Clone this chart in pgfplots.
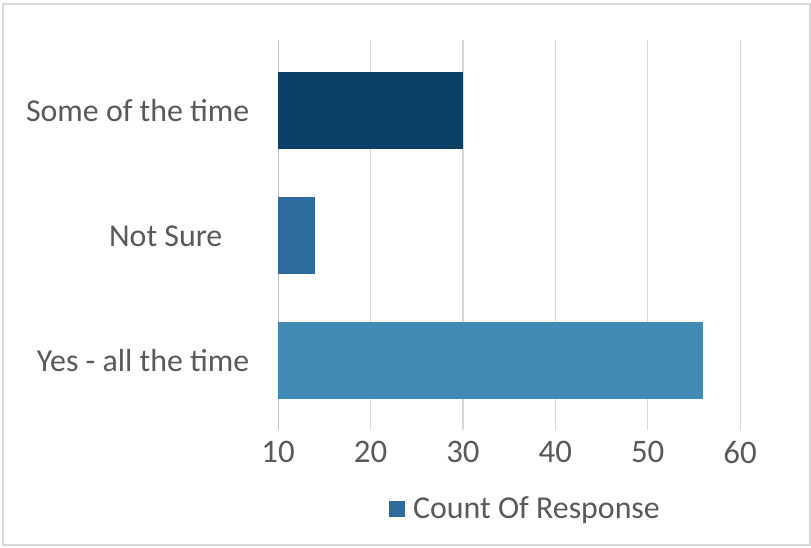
\documentclass[border=0pt]{standalone}
\usepackage{pgfplots}
\pgfplotsset{compat=1.18}
\usepackage{fontspec}
\setmainfont{Carlito}
\definecolor{txt}{HTML}{595959}
\definecolor{gridc}{HTML}{D9D9D9}
\definecolor{barA}{HTML}{0B3F66}
\definecolor{barB}{HTML}{2E6A9C}
\definecolor{barC}{HTML}{418AB3}
\begin{document}
\begin{tikzpicture}[x=1bp,y=1bp]
% outer chart frame
\path[use as bounding box] (0,0) rectangle (811,548);
\draw[gridc, line width=1.2bp] (3,3) rectangle (810,544);
\begin{axis}[
  at={(301,94)}, anchor=south west,
  scale only axis, width=462bp, height=390bp,
  xmin=10, xmax=60, ymin=-0.556, ymax=2.564,
  xtick={10,20,...,60},
  ytick={0,1,2},
  yticklabels={Yes - all the time, Not Sure\hspace*{27bp}, Some of the time},
  axis line style={draw=none},
  tick style={draw=none},
  xmajorgrids, grid style={gridc, line width=1.2bp},
  yticklabel style={font=\fontsize{32}{36}\selectfont, text=txt, xshift=-21bp},
  xticklabel style={font=\fontsize{33}{38}\selectfont, text=txt, yshift=-7bp},
  /pgf/number format/assume math mode=true,
  xbar, bar width=77bp, bar shift=0pt,
  clip=false,
]
\draw[color=black!25, line width=1.2bp] (axis cs:10,-0.556) -- (axis cs:10,2.564);
\addplot[fill=barC, draw=none, xbar, bar shift=0pt] coordinates {(56,0)};
\addplot[fill=barB, draw=none, xbar, bar shift=0pt] coordinates {(14,1)};
\addplot[fill=barA, draw=none, xbar, bar shift=0pt] coordinates {(30,2)};
\end{axis}
% legend
\fill[barB] (389,31) rectangle (405,47);
\node[anchor=west, text=txt, font=\fontsize{32}{36}\selectfont, inner sep=0pt] at (413,38) {Count Of Response};
\end{tikzpicture}
\end{document}
